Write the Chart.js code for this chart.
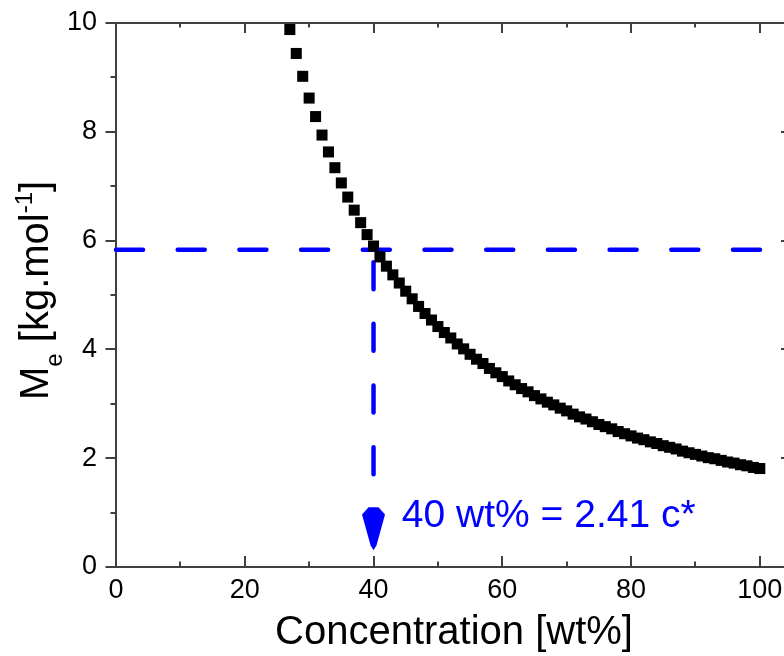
<!DOCTYPE html>
<html>
<head>
<meta charset="utf-8">
<script src="https://cdn.jsdelivr.net/npm/chart.js@4/dist/chart.umd.min.js"></script>
<style>
  html, body { margin: 0; padding: 0; background: #fff; overflow: hidden; }
  canvas { display: block; }
</style>
</head>
<body>
<canvas id="c" width="800" height="656" style="width:800px;height:656px"></canvas>
<script>
// ---- data ----
const concentration = [27,28,29,30,31,32,33,34,35,36,37,38,39,40,41,42,43,44,45,46,47,48,49,50,
  51,52,53,54,55,56,57,58,59,60,61,62,63,64,65,66,67,68,69,70,71,72,73,74,75,76,77,78,79,80,
  81,82,83,84,85,86,87,88,89,90,91,92,93,94,95,96,97,98,99,100];
const meValues = [9.88,9.44,9.02,8.62,8.28,7.94,7.63,7.34,7.06,6.80,6.56,6.33,6.11,5.90,5.70,5.53,5.37,5.22,5.07,4.93,4.79,4.66,4.54,4.42,
  4.31,4.21,4.10,4.01,3.91,3.82,3.74,3.65,3.57,3.50,3.42,3.35,3.28,3.22,3.15,3.09,3.03,2.98,2.92,2.87,2.81,2.76,2.72,2.67,2.62,2.58,2.54,2.49,2.45,2.41,
  2.37,2.34,2.30,2.27,2.23,2.20,2.17,2.13,2.10,2.07,2.04,2.01,1.99,1.96,1.93,1.91,1.88,1.86,1.83,1.81];
const xMajorTicks = [0,20,40,60,80,100];
const xMinorTicks = [10,30,50,70,90];
const yMajorTicks = [0,2,4,6,8,10];
const yMinorTicks = [1,3,5,7,9];
const xRange = [0, 105];
const yRange = [0, 10];
const guideConc = 40;      // wt%
const guideMe = 5.83;      // kg/mol
const arrowTop = 1.10;
const arrowTip = 0.31;
const annotationText = '40 wt% = 2.41 c*';
const annotationPos = [44.4, 0.74];
const xTitle = 'Concentration [wt%]';

const FONT = '"Liberation Sans", Arial, sans-serif';
const AXIS = '#404040';
const BLUE = '#0000ff';

const framePlugin = {
  id: 'frame',
  beforeDatasetsDraw(chart) {
    const {ctx, chartArea: a, scales: {x, y}} = chart;
    ctx.save();
    ctx.strokeStyle = AXIS;
    ctx.lineWidth = 2;
    ctx.lineCap = 'butt';
    ctx.beginPath();
    ctx.rect(a.left, a.top, a.right - a.left, a.bottom - a.top);
    ctx.stroke();
    ctx.beginPath();
    const tx = (vals, len) => vals.forEach(v => {
      const px = Math.round(x.getPixelForValue(v));
      ctx.moveTo(px, a.bottom); ctx.lineTo(px, a.bottom - len);
      ctx.moveTo(px, a.top); ctx.lineTo(px, a.top + len - 1);
    });
    tx(xMajorTicks, 11); tx(xMinorTicks, 5.5);
    const ty = (vals, lenOut, lenIn) => vals.forEach(v => {
      const py = Math.round(y.getPixelForValue(v));
      ctx.moveTo(a.left, py); ctx.lineTo(a.left - lenOut, py);
      ctx.moveTo(a.right, py); ctx.lineTo(a.right - lenIn, py);
    });
    ty(yMajorTicks, 10.5, 11); ty(yMinorTicks, 5.5, 5.5);
    ctx.stroke();
    ctx.restore();
  },
  afterDatasetsDraw(chart) {
    const {ctx, scales: {x, y}} = chart;
    ctx.save();
    // arrow head
    const cx = x.getPixelForValue(guideConc);
    const yt = y.getPixelForValue(arrowTop);
    const yb = y.getPixelForValue(arrowTip);
    const h = yb - yt;
    ctx.fillStyle = BLUE;
    ctx.beginPath();
    ctx.moveTo(cx - 5, yt);
    ctx.lineTo(cx + 5, yt);
    ctx.lineTo(cx + 11.5, yt + h * 0.17);
    ctx.lineTo(cx + 3, yb - 5);
    ctx.lineTo(cx, yb);
    ctx.lineTo(cx - 3, yb - 5);
    ctx.lineTo(cx - 11.5, yt + h * 0.17);
    ctx.closePath();
    ctx.fill();
    // annotation text
    ctx.font = '39px ' + FONT;
    ctx.textBaseline = 'alphabetic';
    ctx.textAlign = 'left';
    ctx.fillText(annotationText, x.getPixelForValue(annotationPos[0]), y.getPixelForValue(annotationPos[1]));
    ctx.restore();

    // y axis title with sub/superscript
    ctx.save();
    ctx.translate(48, 400);
    ctx.rotate(-Math.PI / 2);
    ctx.fillStyle = '#000';
    ctx.textBaseline = 'alphabetic';
    ctx.textAlign = 'left';
    let px = 0;
    const put = (t, size, dy) => {
      ctx.font = size + 'px ' + FONT;
      ctx.fillText(t, px, dy);
      px += ctx.measureText(t).width;
    };
    put('M', 40, 0);
    put('e', 24, 14);
    put(' [kg.mol', 40, 0);
    put('-1', 24, -16);
    put(']', 40, 0);
    ctx.restore();
  }
};

const points = concentration.map((c, i) => ({x: c, y: meValues[i]}));

new Chart(document.getElementById('c'), {
  type: 'scatter',
  data: {
    datasets: [
      {
        data: points,
        pointStyle: 'rect',
        pointRadius: 7.8,
        backgroundColor: '#000',
        borderWidth: 0,
        showLine: false,
        clip: false
      },
      {
        type: 'line',
        data: [{x: xRange[0], y: guideMe}, {x: xRange[1], y: guideMe}],
        borderColor: BLUE,
        borderWidth: 4.5,
        borderDash: [27, 34.7],
        borderCapStyle: 'round',
        pointRadius: 0,
        fill: false,
        clip: false
      },
      {
        type: 'line',
        data: [{x: guideConc, y: guideMe}, {x: guideConc, y: arrowTop}],
        borderColor: BLUE,
        borderWidth: 4.5,
        borderDash: [27, 34.7],
        borderDashOffset: 49.4,
        borderCapStyle: 'round',
        pointRadius: 0,
        fill: false,
        clip: false
      }
    ]
  },
  options: {
    responsive: false,
    animation: false,
    devicePixelRatio: 1,
    events: [],
    layout: { padding: { top: 23, right: 8, left: 0, bottom: 0 } },
    plugins: { legend: { display: false }, tooltip: { enabled: false } },
    scales: {
      x: {
        type: 'linear',
        min: xRange[0], max: xRange[1],
        afterFit(s) { s.height = 89; s.paddingLeft = 0; s.paddingRight = 0; },
        afterBuildTicks(s) { s.ticks = xMajorTicks.map(v => ({value: v})); },
        grid: { display: false, drawTicks: false },
        border: { display: false },
        ticks: { font: { family: FONT, size: 27 }, color: '#000', padding: 7, maxRotation: 0, autoSkip: false },
        title: { display: true, text: xTitle, font: { family: FONT, size: 40 }, color: '#000', padding: { top: 0, bottom: -1 } }
      },
      y: {
        type: 'linear',
        min: yRange[0], max: yRange[1],
        afterFit(s) { s.width = 116; s.paddingTop = 0; s.paddingBottom = 0; },
        afterBuildTicks(s) { s.ticks = yMajorTicks.map(v => ({value: v})); },
        grid: { display: false, drawTicks: false },
        border: { display: false },
        ticks: { font: { family: FONT, size: 27 }, color: '#000', padding: 19, autoSkip: false }
      }
    }
  },
  plugins: [framePlugin]
});
</script>
</body>
</html>
